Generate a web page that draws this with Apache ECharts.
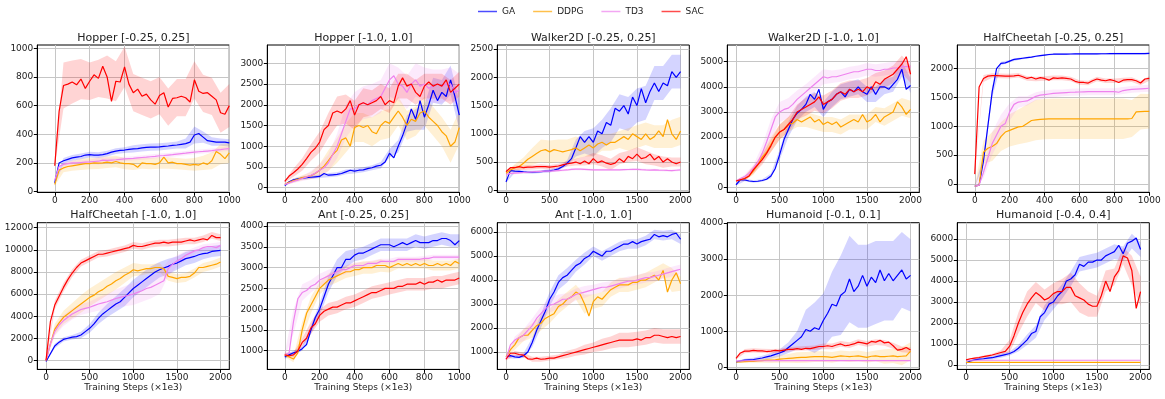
<!DOCTYPE html>
<html>
<head>
<meta charset="utf-8">
<script src="https://cdn.jsdelivr.net/npm/echarts@6/dist/echarts.min.js"></script>
<style>
  html, body { margin: 0; padding: 0; background: #fff; }
  #chart { width: 1165px; height: 399px; }
</style>
</head>
<body>
<div id="chart"></div>
<script>
// sample steps (x1e3)
const xs1000 = [0,25,50,75,100,125,150,175,200,225,250,275,300,325,350,375,400,425,450,475,500,525,550,575,600,625,650,675,700,725,750,775,800,825,850,875,900,925,950,975,1000]
const xs2000 = [0,50,100,150,200,250,300,350,400,450,500,550,600,650,700,750,800,850,900,950,1000,1050,1100,1150,1200,1250,1300,1350,1400,1450,1500,1550,1600,1650,1700,1750,1800,1850,1900,1950,2000]
const ticks1000 = [0,200,400,600,800,1000]
const ticks2000 = [0,500,1000,1500,2000]

const algos = ['GA', 'DDPG', 'TD3', 'SAC']
const colors = ['#0000ff', '#ffa500', '#ee82ee', '#ff0000']

// Hopper [-0.25, 0.25]
const hopA_ga   = [60,200,215,225,235,240,245,255,258,255,255,258,265,275,282,288,290,295,298,300,305,308,310,310,312,315,318,322,325,330,335,345,395,405,380,355,350,345,345,345,340]
const hopA_ddpg = [50,150,165,175,180,185,190,195,195,200,198,200,205,200,210,200,195,195,190,170,200,195,195,190,200,240,200,205,195,195,190,185,190,185,200,190,215,280,260,230,270]
const hopA_td3  = [80,175,190,195,200,200,203,205,207,210,212,220,218,220,222,225,228,230,232,235,238,240,243,246,250,252,255,258,262,265,268,272,275,278,280,283,286,290,293,297,300]
const hopA_sac  = [180,560,740,750,765,745,785,720,770,815,790,875,800,630,770,765,870,750,690,715,665,680,640,610,670,690,590,650,655,665,655,625,780,700,685,690,665,640,550,540,600]
const hopA_ga_sd   = [10,20,20,20,20,20,20,20,20,25,25,25,25,25,25,35,60,40,30,25,25]
const hopA_ddpg_sd = [10,30,35,40,40,40,40,40,40,40,40,40,40,40,40,40,45,50,60,70,70]
const hopA_td3_sd  = [10,15,15,15,15,25,20,15,15,15,15,15,15,15,15,15,15,15,15,15,15]
const hopA_sac_sd  = [10,160,150,140,130,130,150,140,140,130,130,130,130,130,130,130,130,130,130,140,150]

// Hopper [-1.0, 1.0]
const hopB_ga   = [50,140,190,210,230,240,250,260,270,340,300,310,320,340,380,420,400,420,430,460,480,520,540,620,830,720,1000,1250,1550,1900,1650,2100,1700,2000,2350,2100,2300,2200,2600,2200,1750]
const hopB_ddpg = [80,130,170,200,240,260,290,340,420,520,650,800,900,1150,1200,1000,1450,1500,1450,1500,1350,1300,1500,1600,1550,1700,1850,1700,1500,1650,1600,1800,1850,1700,1600,1500,1350,1250,1000,1100,1450]
const hopB_td3  = [80,110,150,180,220,260,300,350,420,480,600,800,1000,1300,1600,1900,1900,2000,2050,2000,2100,2150,2200,2400,2600,2700,2500,2450,2300,2500,2600,2450,2500,2400,2450,2500,2450,2500,2500,2300,2350]
const hopB_sac  = [150,280,360,450,560,700,850,950,1100,1400,1500,1800,1850,1800,1900,2100,1750,2000,2050,2000,2050,2100,2200,2000,2100,2050,2450,2650,2450,2500,2300,2200,2450,2550,2450,2500,2450,2600,2300,2400,2500]
const hopB_ga_sd   = [20,30,40,40,40,50,50,60,60,60,60,80,100,150,200,250,300,300,300,350,350]
const hopB_ddpg_sd = [20,50,60,80,150,250,300,350,350,350,350,350,350,350,350,350,350,350,350,400,400]
const hopB_td3_sd  = [20,40,60,100,150,200,300,400,400,400,400,400,400,400,400,400,400,400,400,400,400]
const hopB_sac_sd  = [30,100,150,200,250,300,350,350,350,350,300,300,300,300,300,300,300,300,300,300,300]

// Walker2D [-0.25, 0.25]
const walkA_ga   = [150,350,340,335,325,320,320,325,330,340,345,360,380,420,480,560,750,950,850,950,850,1050,1000,1200,1150,1450,1400,1500,1350,1650,1500,1800,1550,1750,1900,1750,1900,1850,2100,2000,2100]
const walkA_ddpg = [300,360,400,420,480,550,600,650,700,720,680,720,700,680,700,720,750,700,750,800,750,820,850,800,850,850,900,950,900,1000,950,900,1000,900,950,1050,950,1250,1000,900,1050]
const walkA_td3  = [280,300,305,310,315,320,325,330,335,340,340,345,350,355,360,370,375,375,370,365,360,360,360,360,360,360,362,365,368,370,372,365,360,358,360,356,355,352,350,355,360]
const walkA_sac  = [330,400,400,420,400,410,410,420,420,420,410,420,430,450,470,480,500,470,520,470,560,490,520,480,460,480,560,500,600,560,640,560,580,640,540,600,500,560,500,470,500]
const walkA_ga_sd   = [20,30,25,25,25,30,30,50,150,200,250,250,300,300,300,300,300,300,300,300,300]
const walkA_ddpg_sd = [30,60,100,150,200,200,200,200,200,150,150,150,150,150,200,200,200,200,200,250,250]
const walkA_td3_sd  = [20,20,20,20,20,20,20,20,20,20,20,20,20,20,20,20,20,20,20,20,20]
const walkA_sac_sd  = [30,40,40,40,40,40,40,50,60,80,100,100,100,100,100,120,120,100,100,80,80]

// Walker2D [-1.0, 1.0]
const walkB_ga   = [100,300,290,250,230,240,270,320,450,750,1300,1900,2300,2700,2950,3100,3300,3700,3500,3900,3100,3400,3500,3700,3800,3600,3900,3800,4000,3800,3700,4000,3700,4000,4000,3900,4100,4300,4700,3900,4050]
const walkB_ddpg = [250,300,350,450,650,900,1200,1400,1700,2000,2200,2300,2500,2550,2700,2600,2700,2800,2600,2700,2500,2600,2500,2600,2400,2500,2600,2700,2600,2900,2600,2700,2900,2600,2800,2900,3000,3400,3200,2900,3100]
const walkB_td3  = [250,350,430,550,750,1000,1350,1800,2300,2800,3000,3100,3150,3300,3500,3650,3800,3950,4100,4250,4400,4350,4400,4400,4450,4500,4550,4600,4600,4650,4700,4700,4650,4650,4700,4700,4750,4750,4800,4800,4800]
const walkB_sac  = [250,300,350,450,700,900,1100,1350,1650,2000,2200,2300,2500,2700,3000,3100,3200,3300,3400,3600,3300,3400,3500,3700,3800,3700,3900,3800,3900,3800,4000,3900,4200,4100,4300,4400,4500,4700,4900,5200,4500]
const walkB_ga_sd   = [30,50,50,50,100,200,300,300,300,300,300,300,300,300,300,300,300,300,300,300,300]
const walkB_ddpg_sd = [30,80,150,200,300,300,300,300,300,300,300,300,300,300,300,300,300,350,350,350,350]
const walkB_td3_sd  = [30,80,150,300,400,400,400,350,300,300,300,250,250,250,250,250,250,250,250,250,250]
const walkB_sac_sd  = [30,100,150,200,250,300,300,300,350,350,350,350,350,350,350,350,350,350,350,350,350]

// HalfCheetah [-0.25, 0.25]
const cheA_ga   = [-40,-20,400,1000,1600,2000,2090,2100,2130,2160,2170,2180,2190,2200,2215,2225,2235,2245,2250,2250,2250,2252,2254,2255,2255,2256,2256,2257,2257,2258,2258,2259,2259,2260,2260,2260,2261,2261,2262,2262,2263]
const cheA_ddpg = [-40,-20,550,620,650,700,820,900,930,960,990,1000,1050,1100,1110,1120,1125,1130,1130,1130,1130,1130,1130,1130,1130,1130,1130,1130,1130,1130,1130,1130,1130,1130,1130,1130,1135,1250,1255,1258,1260]
const cheA_td3  = [-40,-20,200,450,700,850,1000,1050,1250,1380,1420,1430,1440,1480,1520,1540,1550,1560,1570,1575,1580,1585,1590,1592,1595,1598,1600,1600,1600,1600,1600,1600,1600,1590,1620,1630,1640,1645,1650,1655,1660]
const cheA_sac  = [170,1680,1830,1870,1880,1880,1875,1870,1870,1875,1885,1860,1830,1850,1820,1845,1830,1800,1840,1830,1840,1830,1820,1780,1760,1760,1750,1790,1820,1800,1790,1810,1790,1760,1800,1810,1810,1790,1750,1820,1830]
const cheA_ga_sd   = [10,80,100,30,20,20,15,15,15,15,15,15,15,15,15,15,15,15,15,15,15]
const cheA_ddpg_sd = [10,200,250,250,280,300,330,350,350,350,350,350,350,350,350,350,350,350,320,310,300]
const cheA_td3_sd  = [10,100,200,200,150,100,80,70,70,70,60,60,60,60,60,60,60,60,60,60,60]
const cheA_sac_sd  = [20,60,40,40,40,40,40,40,40,40,40,40,40,40,40,40,40,40,40,40,40]

// HalfCheetah [-1.0, 1.0]
const cheB_ga   = [-100,600,1300,1650,1900,2000,2100,2150,2300,2600,2900,3300,3800,4200,4500,4800,5100,5300,5700,6100,6500,6800,7100,7400,7700,8000,8200,8350,8500,8700,8800,9000,9200,9300,9400,9550,9650,9700,9850,9900,9950]
const cheB_ddpg = [0,1500,2800,3400,3900,4200,4500,4800,5100,5400,5700,5900,6200,6400,6700,6900,7200,7400,7700,7900,8200,8100,8200,8300,8300,8400,8400,8300,7600,7500,7400,7500,7500,7600,7900,8400,8400,8500,8600,8700,8900]
const cheB_td3  = [0,1500,2600,3200,3600,3900,4200,4400,4600,4700,4800,4950,5100,5200,5300,5450,5600,5700,5800,5900,6000,6150,6300,6500,6600,6800,7000,7200,8300,8700,9000,9200,9500,9700,9900,10000,10200,10300,10300,10200,10400]
const cheB_sac  = [0,3500,5000,5800,6600,7300,7900,8400,8800,9000,9200,9400,9600,9600,9700,9800,9900,10000,10100,10200,10400,10300,10300,10400,10500,10600,10600,10700,10600,10700,10700,10700,10800,10900,10800,10900,11000,10900,11300,11100,11100]
const cheB_ga_sd   = [50,200,200,200,300,400,500,600,700,800,800,800,800,700,700,600,600,600,500,500,500]
const cheB_ddpg_sd = [50,500,600,700,800,800,800,800,800,700,600,500,400,400,400,400,400,400,400,400,400]
const cheB_td3_sd  = [50,400,500,500,500,500,600,700,800,900,1000,1000,1000,1000,700,500,400,300,300,300,300]
const cheB_sac_sd  = [50,400,400,350,300,300,300,300,300,300,300,300,300,300,300,300,300,300,300,300,300]

// Ant [-0.25, 0.25]
const antA_ga   = [850,900,950,980,1050,1150,1500,1800,2000,2300,2600,2800,3000,3000,3200,3200,3300,3350,3350,3400,3450,3500,3550,3550,3550,3500,3550,3600,3550,3600,3650,3600,3600,3600,3650,3650,3700,3700,3650,3550,3650]
const antA_ddpg = [900,850,800,950,1500,1900,2100,2300,2500,2600,2700,2750,2800,2850,2900,2900,2950,2950,3000,3000,3000,3050,3050,3050,3000,3050,3100,3050,3100,3050,3100,3050,3100,3050,3050,3100,3050,3100,3050,3150,3100]
const antA_td3  = [900,950,1700,2250,2400,2450,2550,2600,2700,2750,2800,2850,2900,2950,2950,3000,3050,3050,3050,3100,3100,3100,3150,3150,3150,3150,3200,3200,3200,3200,3200,3200,3220,3220,3250,3250,3250,3250,3250,3250,3250]
const antA_sac  = [900,880,900,1000,1200,1300,1550,1650,1850,1950,2000,2050,2050,2100,2150,2150,2200,2250,2300,2350,2400,2400,2450,2500,2500,2500,2550,2550,2600,2600,2600,2650,2600,2650,2650,2700,2650,2700,2700,2700,2750]
const antA_ga_sd   = [50,50,50,100,150,200,200,200,150,150,150,150,150,150,150,150,150,150,150,150,150]
const antA_ddpg_sd = [50,80,200,200,150,150,150,150,150,150,150,150,120,120,120,120,120,120,120,120,120]
const antA_td3_sd  = [50,300,200,150,150,150,120,100,80,80,70,60,60,60,60,60,60,60,60,60,60]
const antA_sac_sd  = [50,60,100,150,150,150,150,150,150,150,150,150,150,150,150,150,150,150,150,150,150]

// Ant [-1.0, 1.0]
const antB_ga   = [800,850,800,780,850,1000,1400,1900,2300,2700,3200,3500,3900,4100,4200,4400,4600,4700,4900,5000,5200,5100,5000,5200,5200,5300,5400,5500,5500,5600,5500,5600,5650,5700,5900,5800,5850,5800,5900,5950,5700]
const antB_ddpg = [800,1100,1300,1600,1700,1700,1900,2100,2200,2400,2500,2600,2900,3000,3200,3300,3500,3400,3000,2500,3100,3300,3200,3400,3600,3700,3800,3800,3800,3900,3900,4000,4000,4100,4200,4000,4400,3500,4000,4300,3850]
const antB_td3  = [700,1300,1500,1600,1700,1900,2100,2400,2600,2800,2950,3000,3100,3200,3200,3300,3400,3450,3500,3550,3600,3650,3700,3700,3750,3800,3850,3900,3950,3950,4000,4050,4100,4100,4150,4200,4250,4300,4350,4400,4450]
const antB_sac  = [700,950,950,900,870,720,700,750,700,720,750,750,800,850,900,950,1000,1050,1100,1150,1200,1250,1300,1350,1400,1450,1500,1500,1500,1500,1550,1500,1600,1600,1700,1700,1650,1600,1650,1600,1650]
const antB_ga_sd   = [50,80,100,200,300,300,300,300,250,250,200,200,200,200,200,200,200,200,200,200,200]
const antB_ddpg_sd = [50,200,250,300,300,300,300,300,300,400,300,300,300,300,300,300,300,300,300,500,300]
const antB_td3_sd  = [50,150,250,300,300,300,300,250,250,250,200,200,200,200,200,200,200,200,200,200,200]
const antB_sac_sd  = [50,100,100,100,100,100,100,150,150,200,200,250,250,300,300,300,300,300,300,300,300]

// Humanoid [-0.1, 0.1]
const humA_ga   = [150,180,200,210,220,240,260,290,320,360,400,450,550,650,750,850,1050,1000,1100,1050,1300,1500,1750,1700,2000,2100,2450,2100,2250,2550,2250,2500,2350,2700,2400,2600,2400,2550,2700,2450,2550]
const humA_ddpg = [150,150,160,170,170,180,190,200,200,210,230,240,250,260,270,280,280,290,300,300,300,290,280,300,320,310,300,310,320,300,280,310,320,300,300,310,320,300,310,320,450]
const humA_td3  = [180,180,185,185,185,185,185,185,185,190,190,190,190,190,190,190,190,190,190,190,190,190,190,190,190,190,190,190,190,190,190,190,190,190,190,190,190,190,190,190,190]
const humA_sac  = [250,400,450,450,470,460,460,440,450,470,460,480,500,500,520,500,530,520,550,580,580,600,580,620,650,600,620,650,700,680,650,720,700,750,680,700,600,480,500,550,480]
const humA_ga_sd   = [30,40,50,60,80,100,150,250,550,700,750,900,1100,1200,1150,1150,1150,1100,1100,1050,1000]
const humA_ddpg_sd = [20,30,40,60,80,100,120,150,150,150,150,150,150,150,150,150,150,200,200,250,250]
const humA_td3_sd  = [20,20,20,20,20,20,20,20,20,20,20,20,20,20,20,20,20,20,20,20,20]
const humA_sac_sd  = [30,60,60,60,60,60,60,60,60,60,80,80,80,80,80,80,80,80,80,80,80]

// Humanoid [-0.4, 0.4]
const humB_ga   = [100,200,250,280,300,330,350,400,450,500,550,650,800,1000,1200,1500,1600,2300,2500,2900,3000,3300,3500,4000,4100,4300,4800,4700,4900,4900,5000,5000,5200,5300,5400,5700,5300,5800,5900,6050,5500]
const humB_ddpg = [130,130,130,130,130,130,130,130,130,130,130,130,130,130,130,130,130,130,130,130,130,130,130,130,130,130,130,130,130,130,130,130,130,130,130,130,130,130,130,130,130]
const humB_td3  = [230,230,230,230,230,230,230,230,230,230,230,230,230,230,230,230,230,230,230,230,230,230,230,230,230,230,230,230,230,230,230,230,230,230,230,230,230,230,230,230,230]
const humB_sac  = [250,300,330,360,400,440,480,540,600,650,900,1400,2000,2500,2900,3200,3450,3300,3100,3200,3400,3500,3500,3700,3700,3300,3200,3100,2900,2800,2800,3300,4000,3500,4200,4500,5200,5100,4500,2700,3500]
const humB_ga_sd   = [30,50,60,80,100,100,150,250,300,350,350,350,350,350,350,350,350,350,350,350,350]
const humB_ddpg_sd = [5,5,5,5,5,5,5,5,5,5,5,5,5,5,5,5,5,5,5,5,5]
const humB_td3_sd  = [5,5,5,5,5,5,5,5,5,5,5,5,5,5,5,5,5,5,5,5,5]
const humB_sac_sd  = [30,40,50,60,100,300,500,600,500,500,500,600,700,700,600,500,500,400,400,700,700]

const panels = [
  { title: 'Hopper [-0.25, 0.25]', xs: xs1000, xMax: 1000, xTicks: ticks1000, yMin: -5, yMax: 1023, yTicks: [0,200,400,600,800,1000],
    mean: [hopA_ga, hopA_ddpg, hopA_td3, hopA_sac], sd: [hopA_ga_sd, hopA_ddpg_sd, hopA_td3_sd, hopA_sac_sd] },
  { title: 'Hopper [-1.0, 1.0]', xs: xs1000, xMax: 1000, xTicks: ticks1000, yMin: -113, yMax: 3443, yTicks: [0,500,1000,1500,2000,2500,3000],
    mean: [hopB_ga, hopB_ddpg, hopB_td3, hopB_sac], sd: [hopB_ga_sd, hopB_ddpg_sd, hopB_td3_sd, hopB_sac_sd] },
  { title: 'Walker2D [-0.25, 0.25]', xs: xs2000, xMax: 2100, xTicks: ticks2000, yMin: -35, yMax: 2571, yTicks: [0,500,1000,1500,2000,2500],
    mean: [walkA_ga, walkA_ddpg, walkA_td3, walkA_sac], sd: [walkA_ga_sd, walkA_ddpg_sd, walkA_td3_sd, walkA_sac_sd] },
  { title: 'Walker2D [-1.0, 1.0]', xs: xs2000, xMax: 2100, xTicks: ticks2000, yMin: -200, yMax: 5665, yTicks: [0,1000,2000,3000,4000,5000],
    mean: [walkB_ga, walkB_ddpg, walkB_td3, walkB_sac], sd: [walkB_ga_sd, walkB_ddpg_sd, walkB_td3_sd, walkB_sac_sd] },
  { title: 'HalfCheetah [-0.25, 0.25]', xs: xs1000, xMax: 1000, xTicks: ticks1000, yMin: -145, yMax: 2410, yTicks: [0,500,1000,1500,2000],
    mean: [cheA_ga, cheA_ddpg, cheA_td3, cheA_sac], sd: [cheA_ga_sd, cheA_ddpg_sd, cheA_td3_sd, cheA_sac_sd] },
  { title: 'HalfCheetah [-1.0, 1.0]', xs: xs2000, xMax: 2100, xTicks: ticks2000, yMin: -814, yMax: 12451, yTicks: [0,2000,4000,6000,8000,10000,12000],
    mean: [cheB_ga, cheB_ddpg, cheB_td3, cheB_sac], sd: [cheB_ga_sd, cheB_ddpg_sd, cheB_td3_sd, cheB_sac_sd] },
  { title: 'Ant [-0.25, 0.25]', xs: xs1000, xMax: 1000, xTicks: ticks1000, yMin: 551, yMax: 4080, yTicks: [1000,1500,2000,2500,3000,3500,4000],
    mean: [antA_ga, antA_ddpg, antA_td3, antA_sac], sd: [antA_ga_sd, antA_ddpg_sd, antA_td3_sd, antA_sac_sd] },
  { title: 'Ant [-1.0, 1.0]', xs: xs2000, xMax: 2100, xTicks: ticks2000, yMin: 278, yMax: 6389, yTicks: [1000,2000,3000,4000,5000,6000],
    mean: [antB_ga, antB_ddpg, antB_td3, antB_sac], sd: [antB_ga_sd, antB_ddpg_sd, antB_td3_sd, antB_sac_sd] },
  { title: 'Humanoid [-0.1, 0.1]', xs: xs2000, xMax: 2100, xTicks: ticks2000, yMin: -55, yMax: 4009, yTicks: [0,1000,2000,3000,4000],
    mean: [humA_ga, humA_ddpg, humA_td3, humA_sac], sd: [humA_ga_sd, humA_ddpg_sd, humA_td3_sd, humA_sac_sd] },
  { title: 'Humanoid [-0.4, 0.4]', xs: xs2000, xMax: 2100, xTicks: ticks2000, yMin: -206, yMax: 6778, yTicks: [0,1000,2000,3000,4000,5000,6000],
    mean: [humB_ga, humB_ddpg, humB_td3, humB_sac], sd: [humB_ga_sd, humB_ddpg_sd, humB_td3_sd, humB_sac_sd] }
]

const FONT = 'DejaVu Sans'
const chart = echarts.init(document.getElementById('chart'), null, { renderer: 'canvas' })

const grids = [], xAxes = [], yAxes = [], titles = [], series = []

panels.forEach((p, i) => {
  const col = i % 5, row = Math.floor(i / 5)
  const left = 37.3 + 230 * col
  const top = row ? 222.7 : 45
  const height = row ? 146.7 : 147.3
  grids.push({ left, top, width: 192, height, show: true, borderColor: '#000', borderWidth: 1, backgroundColor: '#fff' })
  titles.push({ text: p.title, left: left + 96, top: row ? 209.5 : 32.5, textAlign: 'center', padding: 0,
    textStyle: { fontFamily: FONT, fontSize: 11, fontWeight: 'normal', color: '#222' } })

  const axisCommon = {
    type: 'value', gridIndex: i,
    axisLine: { show: true, onZero: false, lineStyle: { color: '#000', width: 1 } },
    splitLine: { show: true, lineStyle: { color: '#c6c6c6', width: 1 } }
  }
  xAxes.push(Object.assign({}, axisCommon, {
    min: -100, max: p.xMax,
    axisTick: { show: true, length: 3.5, customValues: p.xTicks, lineStyle: { color: '#000' } },
    axisLabel: { customValues: p.xTicks, fontFamily: FONT, fontSize: 9, color: '#222', margin: 4, formatter: v => String(v) },
    name: row ? 'Training Steps (×1e3)' : '', nameLocation: 'middle', nameGap: 13,
    nameTextStyle: { fontFamily: FONT, fontSize: 9, color: '#222' }
  }))
  yAxes.push(Object.assign({}, axisCommon, {
    min: p.yMin, max: p.yMax,
    axisTick: { show: true, length: 3.5, customValues: p.yTicks, lineStyle: { color: '#000' } },
    axisLabel: { customValues: p.yTicks, fontFamily: FONT, fontSize: 9, color: '#222', margin: 4, formatter: v => String(v) }
  }))

  // shaded bands (mean ± sd at every other step), then mean lines on top
  algos.forEach((name, k) => {
    const m = p.mean[k], s = p.sd[k]
    const band = s.map((d, j) => [p.xs[2 * j], m[2 * j] - d, m[2 * j] + d])
    series.push({
      type: 'custom', xAxisIndex: i, yAxisIndex: i, data: band, z: 1, silent: true, clip: true,
      renderItem: (params, api) => {
        if (params.dataIndex !== 0) return null
        const upper = band.map(b => api.coord([b[0], b[2]]))
        const lower = band.map(b => api.coord([b[0], b[1]])).reverse()
        return { type: 'polygon', shape: { points: upper.concat(lower) }, style: { fill: colors[k], opacity: 0.17 } }
      }
    })
  })
  algos.forEach((name, k) => {
    series.push({
      type: 'line', name, xAxisIndex: i, yAxisIndex: i, z: 3,
      data: p.xs.map((x, j) => [x, p.mean[k][j]]),
      symbol: 'none', showSymbol: false,
      lineStyle: { color: colors[k], width: 1.2 }, itemStyle: { color: colors[k] }
    })
  })
})

chart.setOption({
  animation: false,
  backgroundColor: '#fff',
  title: titles,
  legend: {
    data: algos, left: 478, top: 7, padding: 0, icon: 'rect', itemWidth: 19, itemHeight: 1.5, itemGap: 18,
    itemStyle: { opacity: 0.7 },
    textStyle: { fontFamily: FONT, fontSize: 9, color: '#222' }
  },
  grid: grids,
  xAxis: xAxes,
  yAxis: yAxes,
  series
})
</script>
</body>
</html>
